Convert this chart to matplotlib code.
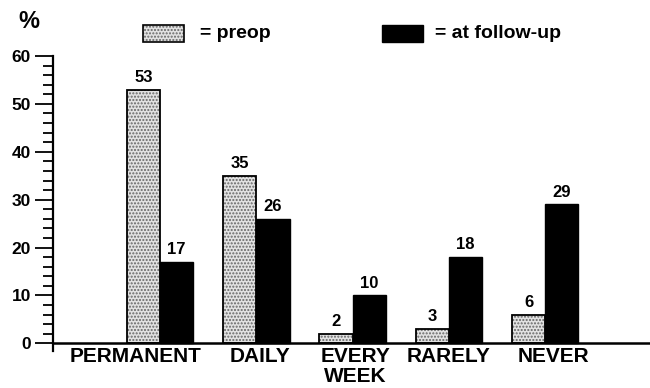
import matplotlib
matplotlib.use("Agg")
import matplotlib.pyplot as plt
import numpy as np

categories = ["PERMANENT", "DAILY", "EVERY\nWEEK", "RARELY", "NEVER"]
preop = [53, 35, 2, 3, 6]
followup = [17, 26, 10, 18, 29]
yticks = [0, 10, 20, 30, 40, 50, 60]

plt.rcParams['font.family'] = ['Liberation Sans', 'DejaVu Sans']
plt.rcParams['hatch.linewidth'] = 1.0

fig = plt.figure(figsize=(6.5, 3.88), dpi=100)
ax = fig.add_axes([53/650, 1-351/388, 1-53/650, (351-56)/388])

x = np.arange(len(categories))
w = 0.345

# preop: stippled bars
ax.bar(x - w/2, preop, width=w, color='#e2e2e2', hatch='.....',
       edgecolor='#666666', linewidth=0, zorder=2)
ax.bar(x - w/2, preop, width=w, fill=False, edgecolor='black',
       linewidth=1.3, zorder=3)
# follow-up: black bars
ax.bar(x + w/2, followup, width=w, color='black', edgecolor='black',
       linewidth=1.0, zorder=3)

for xi, v in zip(x - w/2, preop):
    ax.text(xi, v + 1.0, str(v), ha='center', va='bottom',
            fontsize=12, fontweight='bold')
for xi, v in zip(x + w/2, followup):
    ax.text(xi, v + 1.0, str(v), ha='center', va='bottom',
            fontsize=12, fontweight='bold')

ax.set_xlim(-1.111, 5.088)
ax.set_ylim(-1.6, 60)

ax.spines['top'].set_visible(False)
ax.spines['right'].set_visible(False)
ax.spines['bottom'].set_visible(False)
ax.spines['left'].set_linewidth(1.6)
ax.spines['left'].set_bounds(-1.6, 60)
ax.axhline(0, color='black', linewidth=1.8, zorder=4, clip_on=False)

ax.set_yticks(yticks)
ax.set_yticklabels([str(t) for t in yticks], fontsize=12.5, fontweight='bold')
ax.set_yticks(np.arange(0, 61, 2), minor=True)
ax.tick_params(axis='y', which='major', length=13, width=1.3, direction='out', pad=3)
ax.tick_params(axis='y', which='minor', length=7, width=1.3, direction='out')

ax.set_xticks([])
# category labels placed line by line (baselines in pixel offsets below y=0)
units_per_px = (60 + 1.6) / (351 - 56)
baselines_px = [19, 39]
label_dx = [-0.25, 0.04, 0.03, 0.0, 0.09]
for xi, lab, dx in zip(x, categories, label_dx):
    for line, bpx in zip(lab.split('\n'), baselines_px):
        ax.text(xi + dx, -bpx * units_per_px, line, ha='center', va='baseline',
                fontsize=15, fontweight='bold', clip_on=False)

# legend / header
fig.text(18/650, 1-22/388, '%', fontsize=17, fontweight='bold', va='center', ha='left')
fig.patches.append(plt.Rectangle((143/650, 1-42/388), 41/650, 17/388,
                                 transform=fig.transFigure, facecolor='#e2e2e2',
                                 hatch='.....', edgecolor='#666666', linewidth=0))
fig.patches.append(plt.Rectangle((143/650, 1-42/388), 41/650, 17/388,
                                 transform=fig.transFigure, fill=False,
                                 edgecolor='black', linewidth=1.2))
fig.text(200/650, 1-34/388, '= preop', fontsize=14, fontweight='bold', va='center', ha='left')
fig.patches.append(plt.Rectangle((382/650, 1-42/388), 41/650, 17/388,
                                 transform=fig.transFigure, facecolor='black',
                                 edgecolor='black', linewidth=1.0))
fig.text(435/650, 1-34/388, '= at follow-up', fontsize=14, fontweight='bold', va='center', ha='left')

fig.savefig('out.png', dpi=100)
